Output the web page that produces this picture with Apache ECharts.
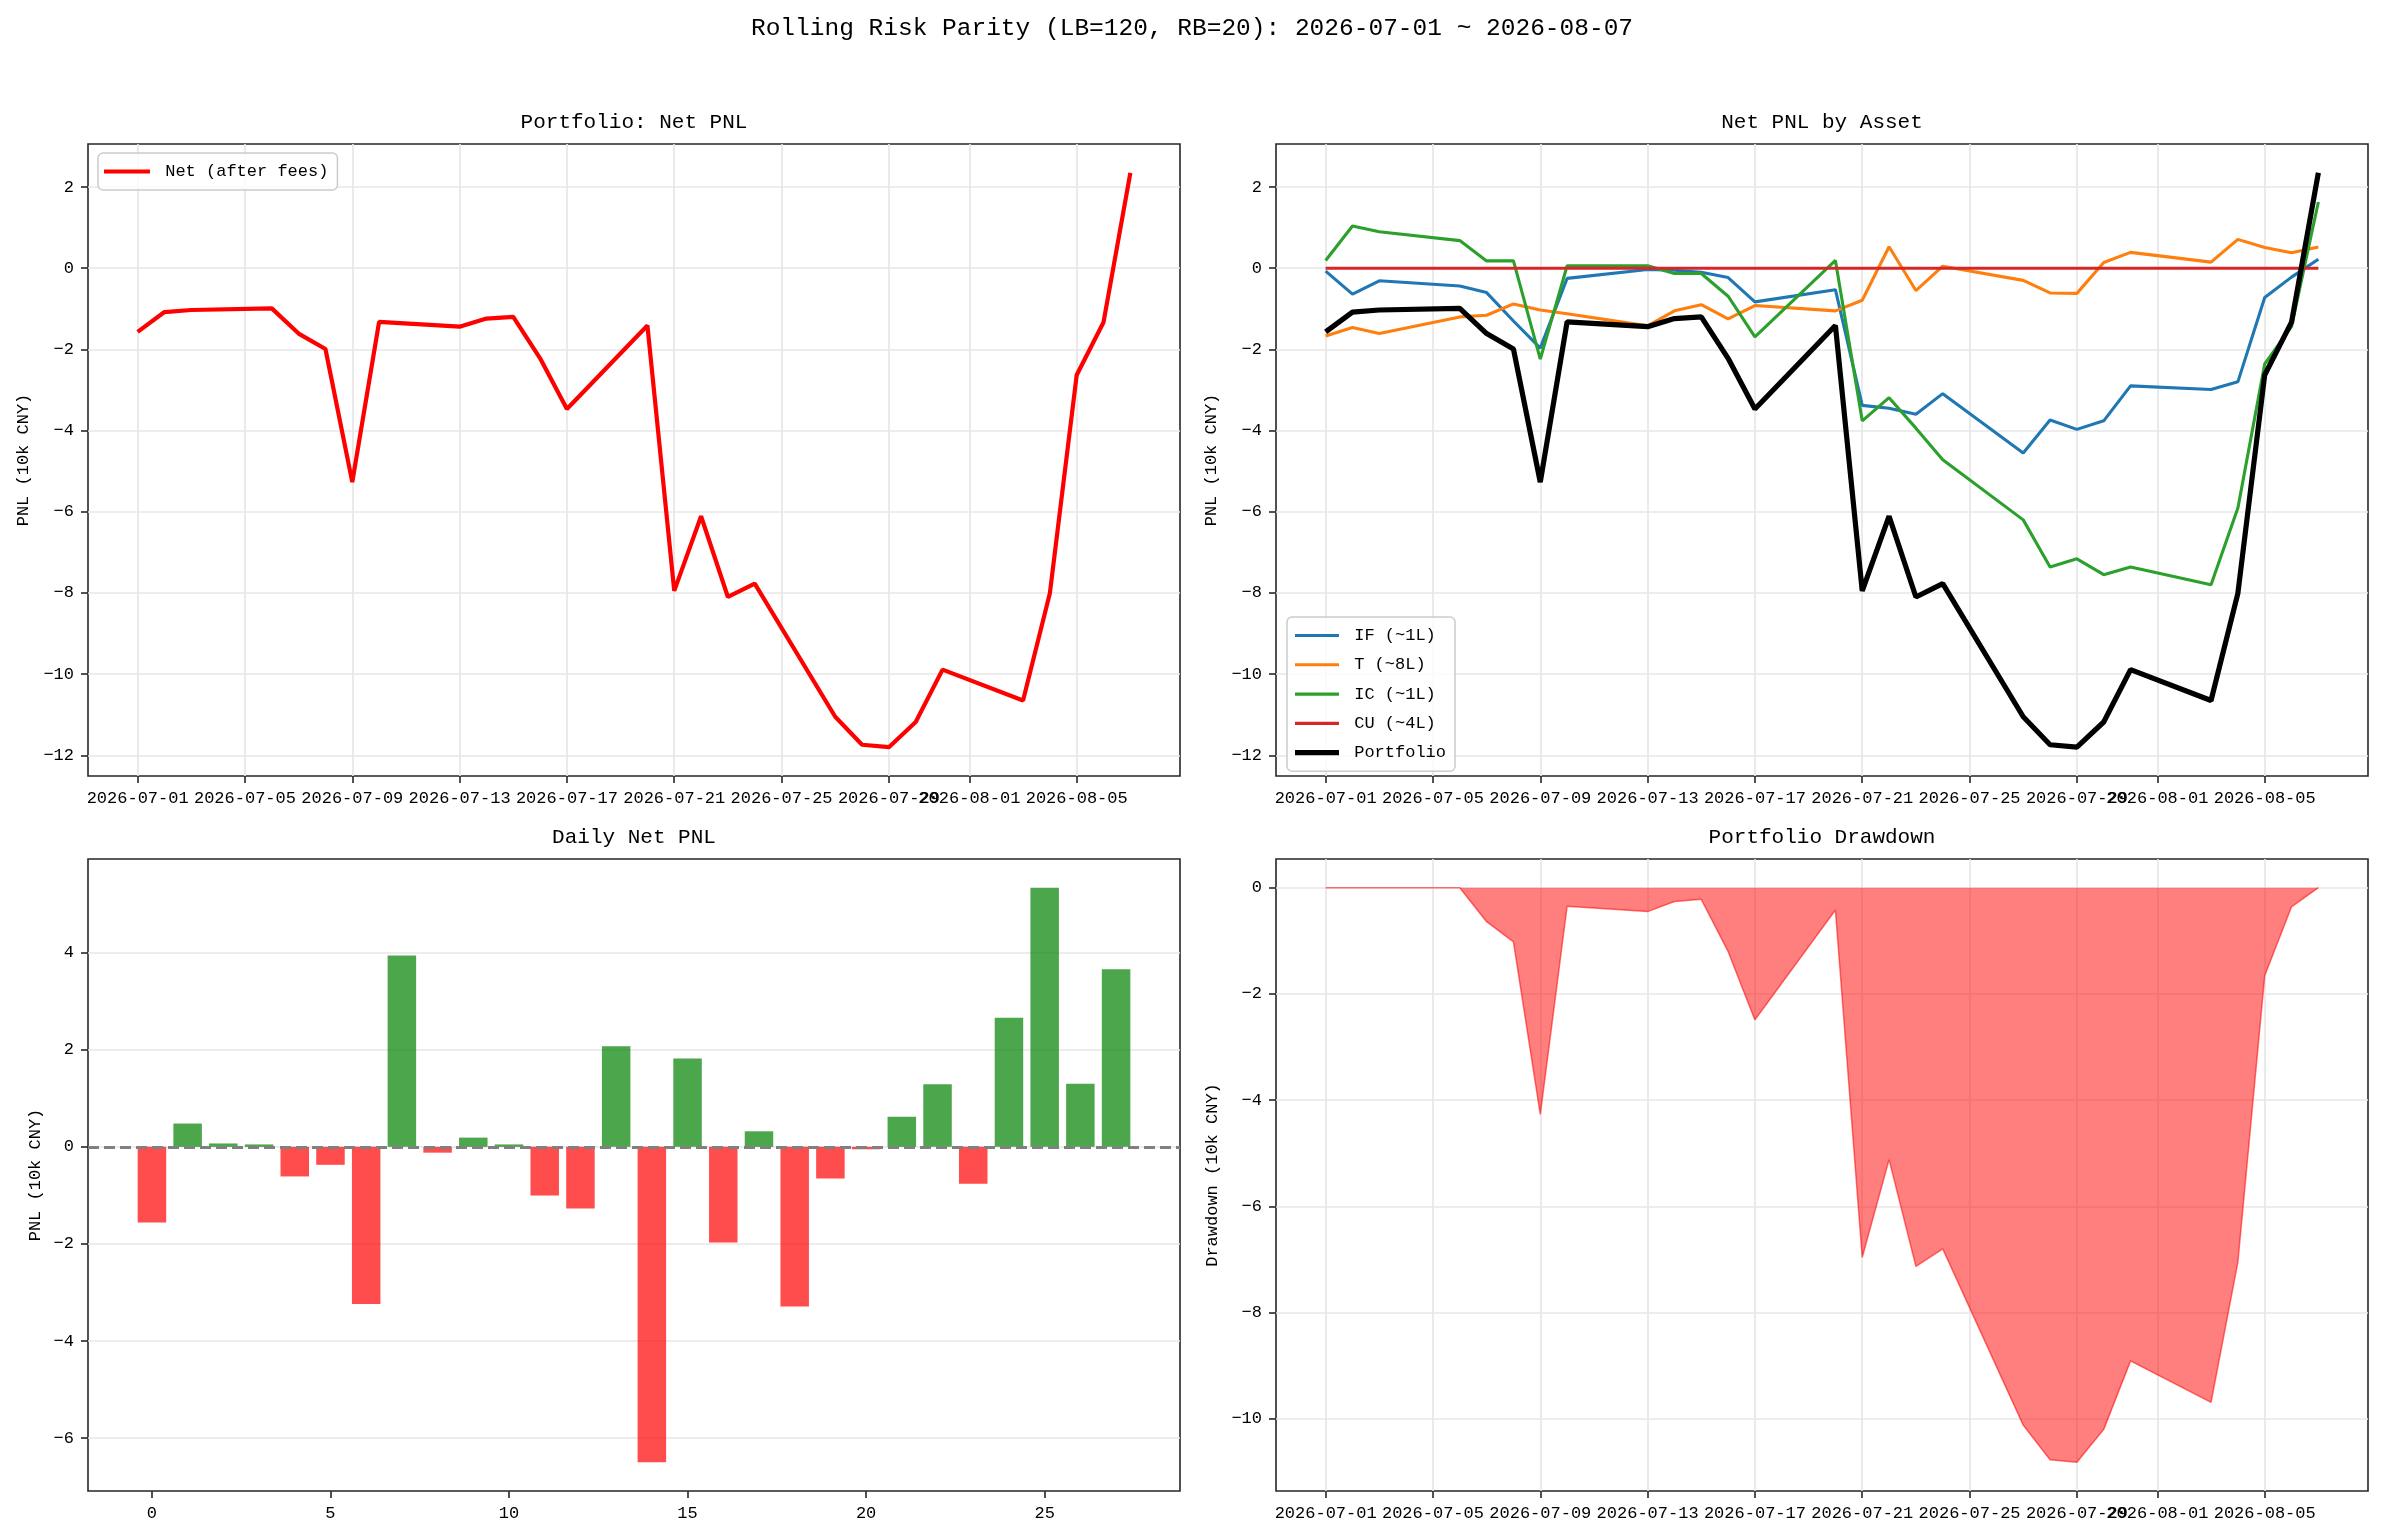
<!DOCTYPE html>
<html>
<head>
<meta charset="utf-8">
<script src="https://cdn.jsdelivr.net/npm/echarts@6/dist/echarts.min.js"></script>
<style>
html,body{margin:0;padding:0;background:#fff;}
#c{width:2384px;height:1536px;}
</style>
</head>
<body>
<div id="c"></div>
<script>
// ---------------- data ----------------
const dates = ['2026-07-01','2026-07-02','2026-07-03','2026-07-06','2026-07-07','2026-07-08','2026-07-09','2026-07-10',
  '2026-07-13','2026-07-14','2026-07-15','2026-07-16','2026-07-17','2026-07-20','2026-07-21','2026-07-22','2026-07-23',
  '2026-07-24','2026-07-27','2026-07-28','2026-07-29','2026-07-30','2026-07-31','2026-08-03','2026-08-04','2026-08-05',
  '2026-08-06','2026-08-07'];
const portfolio = [-1.57,-1.08,-1.03,-0.99,-1.61,-1.99,-5.27,-1.32,-1.44,-1.24,-1.20,-2.22,-3.47,-1.41,-7.95,-6.11,-8.10,
  -7.77,-11.05,-11.74,-11.80,-11.18,-9.89,-10.65,-8.01,-2.63,-1.33,2.35];
const assetIF = [-0.07,-0.64,-0.31,-0.44,-0.60,-1.30,-1.97,-0.25,-0.03,-0.05,-0.10,-0.23,-0.83,-0.53,-3.38,-3.45,-3.60,
  -3.09,-4.55,-3.74,-3.97,-3.76,-2.90,-2.99,-2.80,-0.72,-0.22,0.22];
const assetT = [-1.67,-1.46,-1.61,-1.20,-1.16,-0.88,-1.03,-1.12,-1.42,-1.05,-0.90,-1.25,-0.92,-1.05,-0.79,0.53,-0.55,
  0.05,-0.30,-0.61,-0.62,0.14,0.39,0.15,0.71,0.51,0.38,0.52];
const assetIC = [0.19,1.04,0.90,0.68,0.18,0.18,-2.24,0.06,0.06,-0.13,-0.13,-0.69,-1.69,0.19,-3.76,-3.19,-3.94,
  -4.72,-6.20,-7.36,-7.16,-7.55,-7.36,-7.80,-5.91,-2.36,-1.44,1.63];
const assetCU = [0,0,0,0,0,0,0,0,0,0,0,0,0,0,0,0,0,0,0,0,0,0,0,0,0,0,0,0];
const dailyPnl = [-1.56,0.48,0.07,0.05,-0.61,-0.37,-3.24,3.94,-0.12,0.19,0.05,-1.00,-1.27,2.07,-6.50,1.82,-1.97,
  0.32,-3.29,-0.65,-0.05,0.62,1.29,-0.76,2.66,5.34,1.30,3.66];
const drawdown = [0,0,0,0,-0.64,-1.02,-4.27,-0.35,-0.45,-0.26,-0.22,-1.20,-2.49,-0.42,-6.96,-5.12,-7.13,
  -6.80,-10.12,-10.77,-10.82,-10.20,-8.91,-9.69,-7.05,-1.66,-0.36,0];
const dateTicks = ['2026-07-01','2026-07-05','2026-07-09','2026-07-13','2026-07-17','2026-07-21','2026-07-25',
  '2026-07-29','2026-08-01','2026-08-05'];
const pnlTicks = [-12,-10,-8,-6,-4,-2,0,2];
const barYTicks = [-6,-4,-2,0,2,4];
const barXTicks = [0,5,10,15,20,25];
const ddTicks = [-10,-8,-6,-4,-2,0];

// ---------------- styling ----------------
const FONT = "'Liberation Mono','Noto Sans CJK SC',monospace";
const DARK = '#262626';
const GRIDC = '#e7e7e7';
const DAY = 86400000;
const ts = s => echarts.time.parse(s).getTime();
const tMin = ts(dates[0]) - 1.85 * DAY;
const tMax = ts(dates[dates.length - 1]) + 1.85 * DAY;
const fmtNum = v => (v < 0 ? '\u2212' + Math.abs(v) : String(v));
const fmtDate = v => echarts.time.format(v, '{yyyy}-{MM}-{dd}', false);

const grids = [
  {left: 88, top: 144, width: 1092, height: 632},
  {left: 1276, top: 144, width: 1092, height: 632},
  {left: 88, top: 859, width: 1092, height: 632},
  {left: 1276, top: 859, width: 1092, height: 632}
].map(g => Object.assign(g, {show: true, borderColor: DARK, borderWidth: 1.6, backgroundColor: 'transparent', containLabel: false, outerBoundsMode: 'none'}));

function axisCommon(ticks, fmt, showSplit) {
  return {
    axisLine: {show: false, onZero: false},
    axisTick: {show: true, inside: false, length: 7, lineStyle: {color: DARK, width: 1.6}, customValues: ticks},
    axisLabel: {show: true, margin: 14, color: '#000', fontFamily: FONT, fontSize: 17, customValues: ticks, formatter: fmt},
    splitLine: {show: showSplit, lineStyle: {color: GRIDC, width: 1.7}},
    minorTick: {show: false}, minorSplitLine: {show: false}
  };
}
function timeX(gi) {
  return Object.assign({type: 'value', gridIndex: gi, position: 'bottom', min: tMin, max: tMax}, axisCommon(dateTicks.map(ts), fmtDate, true));
}
function valY(gi, min, max, ticks, name, gap, split) {
  return Object.assign({type: 'value', gridIndex: gi, position: 'left', min: min, max: max, name: name, nameLocation: 'middle',
    nameRotate: 90, nameGap: gap, nameTextStyle: {fontFamily: FONT, fontSize: 17, color: '#000'}},
    axisCommon(ticks, fmtNum, split));
}

const xAxis = [
  timeX(0), timeX(1),
  Object.assign({type: 'value', gridIndex: 2, position: 'bottom', min: -1.79, max: 28.79}, axisCommon(barXTicks, v => String(v), false)),
  timeX(3)
];
const yAxis = [
  valY(0, -12.51, 3.06, pnlTicks, 'PNL (10k CNY)', 56, true),
  valY(1, -12.51, 3.06, pnlTicks, 'PNL (10k CNY)', 56, true),
  valY(2, -7.09, 5.93, barYTicks, 'PNL (10k CNY)', 44, true),
  valY(3, -11.36, 0.54, ddTicks, 'Drawdown (10k CNY)', 55, true)
];

const pairs = arr => dates.map((d, i) => [ts(d), arr[i]]);
function lineSeries(name, gi, arr, color, width) {
  return {type: 'line', name: name, xAxisIndex: gi, yAxisIndex: gi, data: pairs(arr), symbol: 'none', showSymbol: false,
    lineStyle: {color: color, width: width}, itemStyle: {color: color}, emphasis: {disabled: true}};
}

const series = [
  lineSeries('Net (after fees)', 0, portfolio, '#ff0000', 4.2),
  lineSeries('IF (~1L)', 1, assetIF, '#1f77b4', 3.1),
  lineSeries('T (~8L)', 1, assetT, '#ff7f0e', 3.1),
  lineSeries('IC (~1L)', 1, assetIC, '#2ca02c', 3.1),
  lineSeries('CU (~4L)', 1, assetCU, '#d62728', 3.1),
  lineSeries('Portfolio', 1, portfolio, '#000000', 5.2),
  {
    type: 'bar', name: 'Daily', xAxisIndex: 2, yAxisIndex: 2, barWidth: 28.5,
    data: dailyPnl.map((v, i) => ({value: [i, v], itemStyle: {color: v >= 0 ? 'rgba(0,128,0,0.7)' : 'rgba(255,0,0,0.7)'}})),
    emphasis: {disabled: true},
    markLine: {silent: true, symbol: ['none', 'none'], label: {show: false},
      lineStyle: {color: '#808080', type: [11, 5], width: 3}, data: [{yAxis: 0}], animation: false}
  },
  {
    type: 'line', name: 'Drawdown', xAxisIndex: 3, yAxisIndex: 3, data: pairs(drawdown), symbol: 'none', showSymbol: false,
    lineStyle: {color: '#ff0000', width: 1.5, opacity: 0.55}, areaStyle: {color: '#ff0000', opacity: 0.5, origin: 0},
    emphasis: {disabled: true}
  }
];

const bar = (w, h) => 'path://M0,0H' + w + 'V' + h + 'H0Z';
const legendText = {fontFamily: FONT, fontSize: 17, color: '#000', lineHeight: 16};
const legendBase = {orient: 'vertical', selectedMode: false, itemHeight: 16, symbolKeepAspect: true,
  backgroundColor: 'rgba(255,255,255,0.8)', borderColor: '#cccccc', borderWidth: 1.5, borderRadius: 5,
  textStyle: legendText, formatter: n => ' ' + n};
const legend = [
  Object.assign({}, legendBase, {
    left: 98, top: 153, itemWidth: 46, padding: [10, 9, 10, 6],
    data: [{name: 'Net (after fees)', icon: bar(46, 4.2)}]
  }),
  Object.assign({}, legendBase, {
    left: 1287, top: 617, itemWidth: 44, itemGap: 12.3, padding: [10, 9, 10, 8],
    data: [
      {name: 'IF (~1L)', icon: bar(44, 3.1)},
      {name: 'T (~8L)', icon: bar(44, 3.1)},
      {name: 'IC (~1L)', icon: bar(44, 3.1)},
      {name: 'CU (~4L)', icon: bar(44, 3.1)},
      {name: 'Portfolio', icon: bar(44, 5.2)}
    ]
  })
];

function ttl(text, x, y, size) {
  return {text: text, left: x, top: y, textAlign: 'center', padding: 0,
    textStyle: {fontFamily: FONT, fontSize: size, fontWeight: 'normal', color: '#000', lineHeight: size}};
}
const title = [
  ttl('Rolling Risk Parity (LB=120, RB=20): 2026-07-01 ~ 2026-08-07', 1192, 16, 24.5),
  ttl('Portfolio: Net PNL', 634, 112, 21),
  ttl('Net PNL by Asset', 1822, 112, 21),
  ttl('Daily Net PNL', 634, 827, 21),
  ttl('Portfolio Drawdown', 1822, 827, 21)
];

const chart = echarts.init(document.getElementById('c'), null, {renderer: 'canvas'});
chart.setOption({
  animation: false,
  backgroundColor: '#ffffff',
  textStyle: {fontFamily: FONT},
  title: title,
  legend: legend,
  grid: grids,
  xAxis: xAxis,
  yAxis: yAxis,
  series: series
});
</script>
</body>
</html>
